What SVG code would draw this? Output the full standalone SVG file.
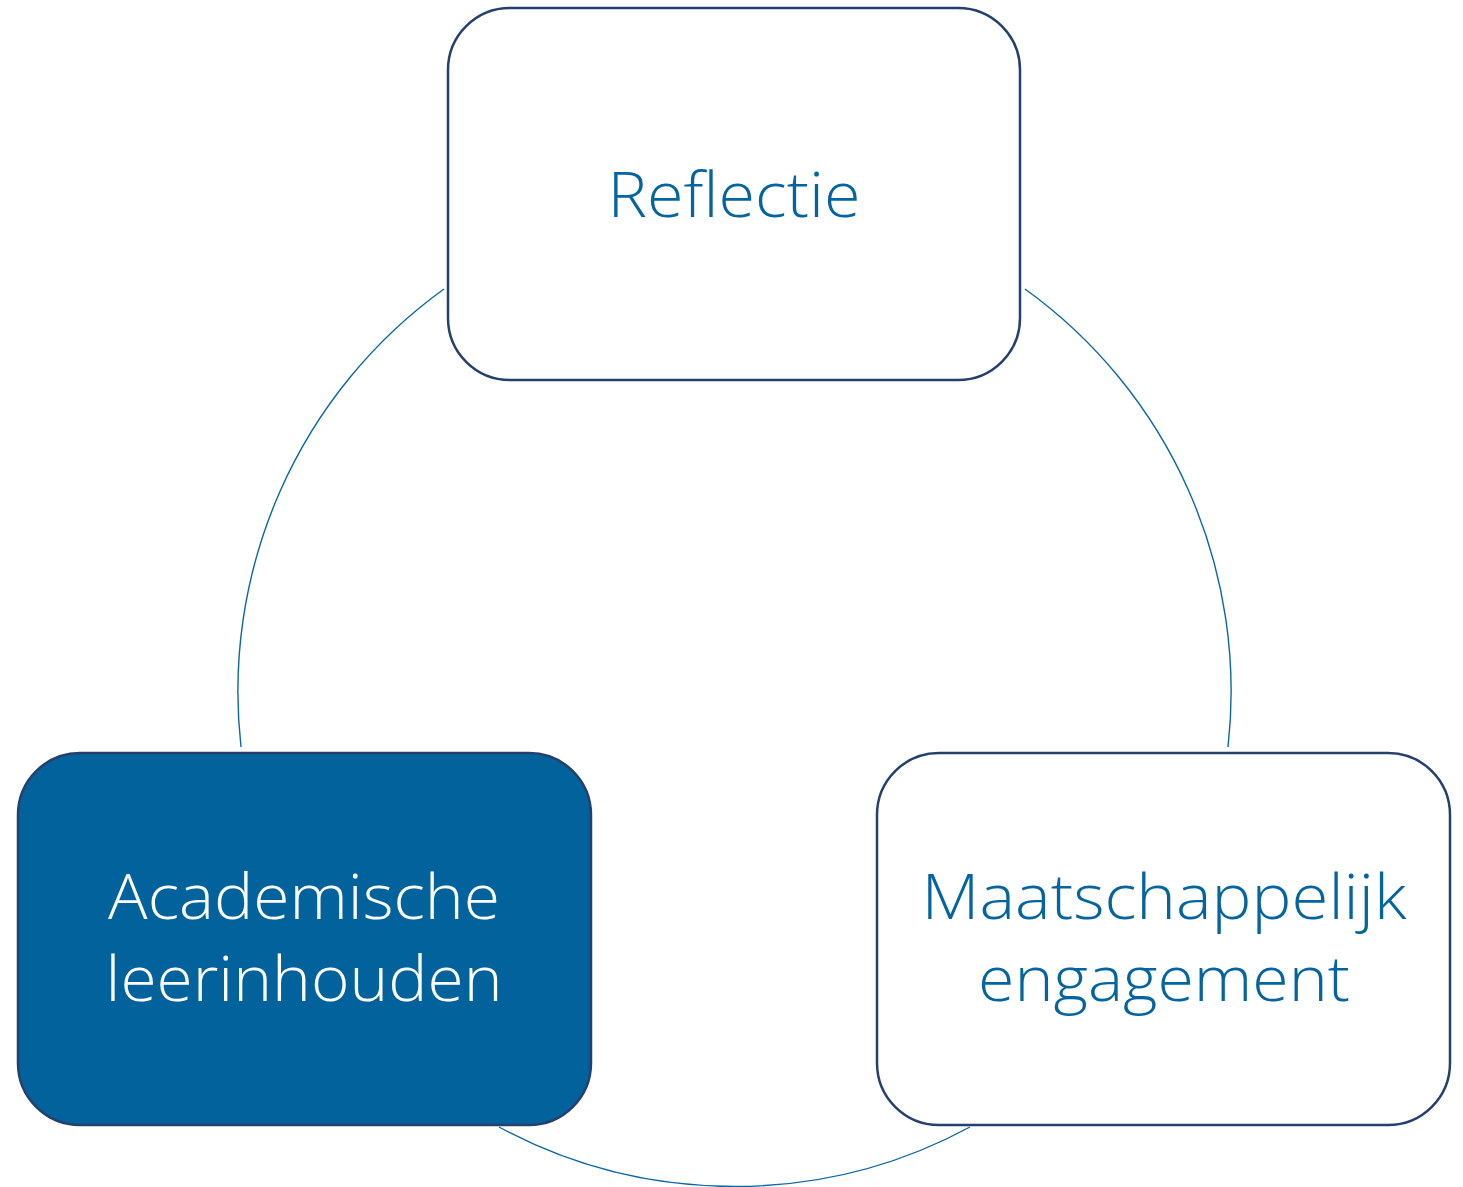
<svg xmlns="http://www.w3.org/2000/svg" width="1463" height="1187" viewBox="0 0 1463 1187">
<style>
.arc{fill:none;stroke:#0A66A6;stroke-width:1.4}
.box{stroke:#24406E;stroke-width:2.5}
.lbl{font-family:"Open Sans","Liberation Sans",sans-serif;font-weight:300;font-size:62px;text-anchor:middle}
</style>
<rect width="1463" height="1187" fill="#ffffff"/>
<g id="connectors">
<path class="arc" d="M444,289 A496,496 0 0 0 241,747"/>
<path class="arc" d="M1025,289 A496,496 0 0 1 1228,747"/>
<path class="arc" d="M499,1127 A496,496 0 0 0 970,1127"/>
</g>
<g id="reflectie">
<rect class="box" x="448" y="8" width="572" height="372" rx="62" fill="#ffffff"/>
<text class="lbl" x="734" y="217" fill="#04649F" textLength="253" lengthAdjust="spacingAndGlyphs">Reflectie</text>
</g>
<g id="academische">
<rect class="box" x="18" y="753" width="573" height="372" rx="62" fill="#02629B"/>
<text class="lbl" x="304" y="919" fill="#ffffff" textLength="392" lengthAdjust="spacingAndGlyphs">Academische</text>
<text class="lbl" x="304" y="1001" fill="#ffffff" textLength="397" lengthAdjust="spacingAndGlyphs">leerinhouden</text>
</g>
<g id="maatschappelijk">
<rect class="box" x="877" y="753" width="573" height="372" rx="62" fill="#ffffff"/>
<text class="lbl" x="1164" y="919" fill="#04649F" textLength="485" lengthAdjust="spacingAndGlyphs">Maatschappelijk</text>
<text class="lbl" x="1164" y="1001" fill="#04649F" textLength="372" lengthAdjust="spacingAndGlyphs">engagement</text>
</g>
</svg>
